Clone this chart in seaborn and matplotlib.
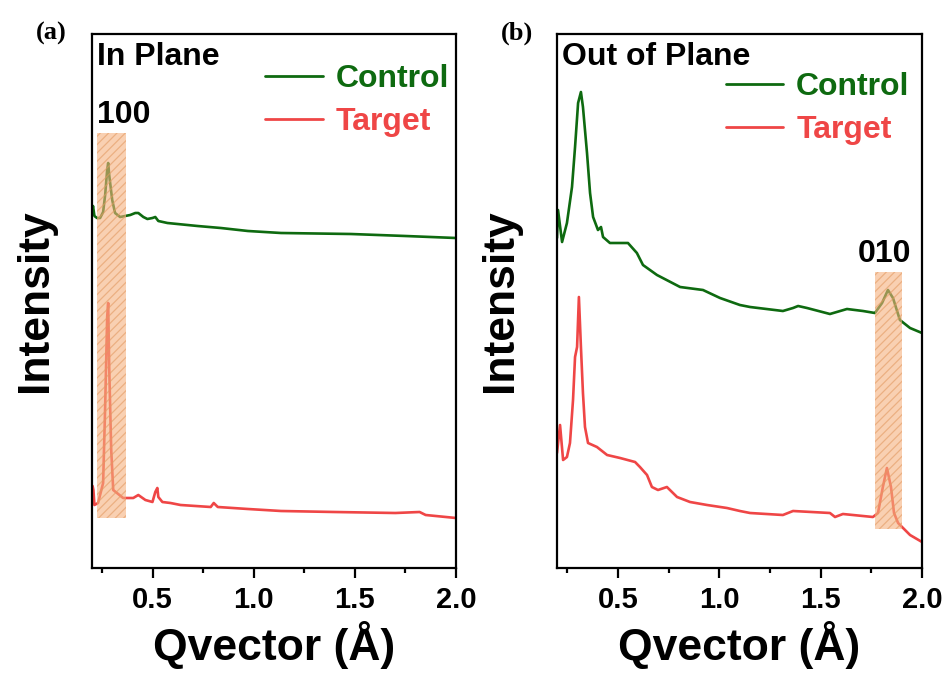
import matplotlib
matplotlib.use("Agg")
import matplotlib.pyplot as plt
from matplotlib.ticker import MultipleLocator
import pandas as pd
import seaborn as sns

# ---------------- data (intensity in arbitrary units) ----------------
ip_control_q = [0.200, 0.205, 0.212, 0.225, 0.240, 0.255, 0.265, 0.275, 0.280, 0.285,
                0.300, 0.314, 0.339, 0.389, 0.414, 0.429, 0.454, 0.474, 0.499, 0.513,
                0.528, 0.573, 0.722, 0.837, 0.971, 1.135, 1.480, 1.750, 2.000]
ip_control_i = [356, 362, 352, 350, 350, 356, 373, 398, 405, 393,
                368, 355, 351, 353, 355, 355, 351, 349, 350, 351,
                347, 345, 342, 340, 337, 335, 334, 332, 330]

ip_target_q = [0.200, 0.203, 0.207, 0.212, 0.230, 0.255, 0.265, 0.275, 0.280, 0.285,
               0.295, 0.305, 0.354, 0.404, 0.429, 0.464, 0.499, 0.513, 0.523, 0.528,
               0.548, 0.588, 0.638, 0.787, 0.802, 0.822, 0.971, 1.135, 1.400, 1.700,
               1.820, 1.850, 2.000]
ip_target_i = [70, 82, 78, 63, 65, 85, 161, 251, 265, 201,
               118, 78, 70, 70, 73, 68, 66, 76, 80, 71,
               66, 65, 63, 61, 65, 61, 59, 57, 56, 55,
               56, 53, 50]

op_control_q = [0.200, 0.205, 0.225, 0.249, 0.274, 0.289, 0.304, 0.318, 0.328, 0.348,
                0.363, 0.378, 0.402, 0.417, 0.427, 0.461, 0.550, 0.594, 0.624, 0.693,
                0.807, 0.920, 1.004, 1.102, 1.152, 1.314, 1.364, 1.389, 1.433, 1.546,
                1.630, 1.709, 1.768, 1.803, 1.832, 1.857, 1.891, 1.941, 2.000]
op_control_i = [330, 358, 326, 345, 381, 421, 465, 476, 461, 415,
                375, 351, 338, 341, 331, 325, 325, 315, 303, 293,
                281, 278, 270, 263, 261, 257, 260, 262, 260, 254,
                259, 257, 255, 265, 278, 270, 248, 240, 235]

op_target_q = [0.200, 0.215, 0.230, 0.249, 0.264, 0.279, 0.289, 0.299, 0.308, 0.318,
               0.328, 0.338, 0.353, 0.397, 0.447, 0.511, 0.585, 0.609, 0.644, 0.668,
               0.698, 0.742, 0.792, 0.856, 0.940, 1.038, 1.102, 1.152, 1.314, 1.364,
               1.546, 1.571, 1.610, 1.758, 1.783, 1.807, 1.827, 1.847, 1.862, 1.882,
               1.941, 2.000]
op_target_i = [115, 143, 108, 111, 125, 168, 211, 221, 271, 221,
               175, 141, 125, 121, 113, 110, 106, 101, 93, 81,
               78, 81, 71, 66, 63, 60, 57, 55, 53, 57,
               55, 51, 54, 51, 55, 81, 100, 81, 55, 45,
               33, 26]

series_names = ["Control", "Target"]
series_colors = ["#0e6a10", "#ef4646"]
peak_bands = {"a": (0.225, 0.37, 50, 435), "b": (1.77, 1.90, 39, 296)}
peak_labels = {"a": "100", "b": "010"}
panel_titles = {"a": "In Plane", "b": "Out of Plane"}
x_ticks = [0.5, 1.0, 1.5, 2.0]

# ---------------- style ----------------
sns.set_theme(style="ticks")
plt.rcParams["font.family"] = ["Liberation Sans", "DejaVu Sans"]
plt.rcParams["font.weight"] = "bold"
plt.rcParams["text.color"] = "black"
plt.rcParams["axes.labelcolor"] = "black"
plt.rcParams["xtick.color"] = "black"
plt.rcParams["axes.edgecolor"] = "black"
plt.rcParams["axes.linewidth"] = 1.6
plt.rcParams["hatch.linewidth"] = 0.9
plt.rcParams["hatch.color"] = "#e39a62"


def long_frame(q_ctrl, i_ctrl, q_tgt, i_tgt):
    a = pd.DataFrame({"q": q_ctrl, "I": i_ctrl, "sample": series_names[0]})
    b = pd.DataFrame({"q": q_tgt, "I": i_tgt, "sample": series_names[1]})
    return pd.concat([a, b], ignore_index=True)


frames = {
    "a": long_frame(ip_control_q, ip_control_i, ip_target_q, ip_target_i),
    "b": long_frame(op_control_q, op_control_i, op_target_q, op_target_i),
}
legend_anchor = {"a": (0.98, 0.944), "b": (0.966, 0.929)}

fig = plt.figure(figsize=(9.5, 6.77), dpi=100)
ax_a = fig.add_axes([92 / 950, 109 / 677, 364 / 950, 534 / 677])
ax_b = fig.add_axes([557 / 950, 109 / 677, 365 / 950, 534 / 677])

for key, ax in (("a", ax_a), ("b", ax_b)):
    sns.lineplot(data=frames[key], x="q", y="I", hue="sample",
                 palette=dict(zip(series_names, series_colors)),
                 linewidth=1.9, sort=False, estimator=None, ax=ax, zorder=2)

    x0, x1, y0, y1 = peak_bands[key]
    ax.fill_between([x0, x1], [y0, y0], [y1, y1], facecolor="#f6b27f",
                    edgecolor="#e39a62", hatch="////", linewidth=0,
                    alpha=0.6, zorder=3)

    ax.set_xlim(0.2, 2.0)
    ax.set_ylim(0, 534)
    ax.set_xticks(x_ticks)
    ax.xaxis.set_minor_locator(MultipleLocator(0.25))
    ax.set_yticks([])
    ax.tick_params(axis="x", which="major", direction="out", length=7,
                   width=1.6, pad=6, labelsize=21)
    ax.tick_params(axis="x", which="minor", direction="out", length=3.5,
                   width=1.6)
    for lab in ax.get_xticklabels():
        lab.set_fontweight("bold")
    for s in ax.spines.values():
        s.set_visible(True)
        s.set_color("black")
        s.set_linewidth(1.6)

    ax.set_xlabel("Qvector (Å)", fontsize=32, fontweight="bold", labelpad=5)
    ax.set_ylabel("Intensity", fontsize=32, fontweight="bold", labelpad=26)

    ax.text(0.014, 0.942, panel_titles[key], transform=ax.transAxes,
            fontsize=23, fontweight="bold", va="baseline", ha="left")

    leg = ax.legend(loc="upper right", bbox_to_anchor=legend_anchor[key],
                    frameon=False, fontsize=23, handlelength=1.8,
                    handletextpad=0.4, labelspacing=0.4, borderpad=0,
                    borderaxespad=0, labelcolor="linecolor")
    for t in leg.get_texts():
        t.set_fontweight("bold")
    for h in leg.get_lines():
        h.set_linewidth(2.0)

ax_a.text(0.225, 445, peak_labels["a"], fontsize=23, fontweight="bold",
          va="baseline", ha="left")
ax_b.text(1.684, 306, peak_labels["b"], fontsize=23, fontweight="bold",
          va="baseline", ha="left")

fig.text(36 / 950, 1 - 40 / 677, "(a)", family=["Liberation Serif", "DejaVu Serif"],
         fontsize=19, fontweight="bold", va="baseline", ha="left")
fig.text(501 / 950, 1 - 40 / 677, "(b)", family=["Liberation Serif", "DejaVu Serif"],
         fontsize=19, fontweight="bold", va="baseline", ha="left")

fig.savefig("out.png", dpi=100)
